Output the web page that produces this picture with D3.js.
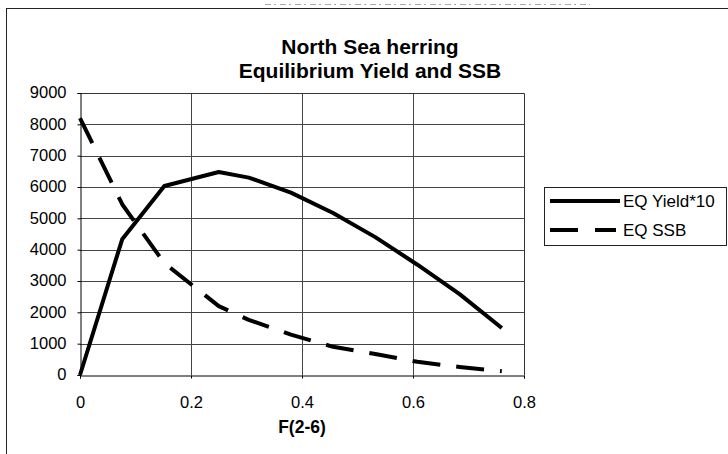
<!DOCTYPE html>
<html>
<head>
<meta charset="utf-8">
<script src="https://cdn.jsdelivr.net/npm/d3@7"></script>
<style>
  html, body { margin: 0; padding: 0; background: #fff; }
  svg { display: block; font-family: "Liberation Sans", Arial, sans-serif; }
</style>
</head>
<body>
<svg id="chart" width="728" height="454"></svg>
<script>
// Fishing mortality F(2-6) at which equilibrium values were computed
const fValues = [0, 0.076, 0.152, 0.25, 0.304, 0.38, 0.456, 0.532, 0.608, 0.684, 0.76];
// Equilibrium yield (scaled by 10) and equilibrium spawning stock biomass
const eqYield10 = [0, 4330, 6030, 6480, 6300, 5820, 5170, 4400, 3520, 2580, 1500];
const eqSSB = [8200, 5450, 3570, 2200, 1760, 1290, 900, 670, 420, 255, 120];
const seriesNames = ["EQ Yield*10", "EQ SSB"];
const yTicks = [0, 1000, 2000, 3000, 4000, 5000, 6000, 7000, 8000, 9000];
const xTicks = [0, 0.2, 0.4, 0.6, 0.8];
const titleLines = ["North Sea herring", "Equilibrium Yield and SSB"];
const xAxisTitle = "F(2-6)";

const svg = d3.select("#chart");
const plot = { left: 80, right: 524, top: 93, bottom: 375 };

const x = d3.scaleLinear().domain([0, 0.8]).range([plot.left, plot.right]);
const y = d3.scaleLinear().domain([0, 9000]).range([plot.bottom, plot.top]);

// outer chart frame (left and top edges)
svg.append("line").attr("x1", 6.5).attr("x2", 6.5).attr("y1", 8).attr("y2", 454)
  .attr("stroke", "#222").attr("stroke-width", 1);
svg.append("line").attr("x1", 6).attr("x2", 728).attr("y1", 8.5).attr("y2", 8.5)
  .attr("stroke", "#222").attr("stroke-width", 1);
svg.append("line").attr("x1", 265).attr("x2", 590).attr("y1", 4.5).attr("y2", 4.5)
  .attr("stroke", "#aaa").attr("stroke-width", 1).attr("stroke-dasharray", "6,3,2,4");

// title
const title = svg.append("g").attr("font-weight", "bold").attr("font-size", 21)
  .attr("text-anchor", "middle").attr("fill", "#000");
title.selectAll("text").data(titleLines).join("text")
  .attr("x", 370).attr("y", (d, i) => 54 + i * 24).text(d => d);

// gridlines
const grid = svg.append("g").attr("stroke", "#444").attr("stroke-width", 1);
grid.selectAll("line.h").data(yTicks.filter(v => v > 0 && v < 9000)).join("line")
  .attr("class", "h")
  .attr("x1", plot.left).attr("x2", plot.right)
  .attr("y1", d => Math.round(y(d)) + 0.5).attr("y2", d => Math.round(y(d)) + 0.5);
grid.selectAll("line.v").data(xTicks.filter(v => v > 0 && v < 0.8)).join("line")
  .attr("class", "v")
  .attr("y1", plot.top).attr("y2", plot.bottom)
  .attr("x1", d => Math.round(x(d)) + 0.5).attr("x2", d => Math.round(x(d)) + 0.5);

// plot frame: top and right edges
svg.append("path")
  .attr("d", `M${plot.left},${plot.top + 0.5}H${plot.right + 0.5}V${plot.bottom}`)
  .attr("fill", "none").attr("stroke", "#333").attr("stroke-width", 1);

// axes
const yAxis = d3.axisLeft(y).tickValues(yTicks).tickSize(3).tickPadding(11)
  .tickFormat(d3.format("d"));
const gy = svg.append("g").attr("transform", `translate(${plot.left + 0.5},0)`).call(yAxis);
gy.select(".domain").attr("stroke", "#000");
gy.selectAll(".tick line").attr("stroke", "#000");
gy.selectAll(".tick text").attr("font-size", 16.5).attr("fill", "#000").attr("dy", "0.3em");

const xAxis = d3.axisBottom(x).tickValues(xTicks).tickSize(3).tickPadding(18)
  .tickFormat(d => d === 0 ? "0" : d3.format(".1f")(d));
const gx = svg.append("g").attr("transform", `translate(0,${plot.bottom + 0.5})`).call(xAxis);
gx.select(".domain").attr("stroke", "#000");
gx.selectAll(".tick line").attr("stroke", "#000");
gx.selectAll(".tick text").attr("font-size", 16.5).attr("fill", "#000");

svg.append("text").attr("x", (plot.left + plot.right) / 2).attr("y", 433)
  .attr("text-anchor", "middle").attr("font-weight", "bold").attr("font-size", 17.5)
  .attr("fill", "#000").text(xAxisTitle);

// series lines
const line = d3.line().x(d => x(d[0])).y(d => y(d[1]));
const series = [
  { name: seriesNames[0], values: eqYield10, dash: null },
  { name: seriesNames[1], values: eqSSB, dash: "28,16" }
];
svg.append("g").selectAll("path").data(series).join("path")
  .attr("d", s => line(fValues.map((f, i) => [f, s.values[i]])))
  .attr("fill", "none").attr("stroke", "#000").attr("stroke-width", 4)
  .attr("stroke-linejoin", "round")
  .attr("stroke-dasharray", s => s.dash);

// legend
const legend = svg.append("g");
legend.append("rect").attr("x", 544.5).attr("y", 187.5).attr("width", 182).attr("height", 58)
  .attr("fill", "#fff").attr("stroke", "#222").attr("stroke-width", 1);
const items = legend.selectAll("g.item").data(series).join("g").attr("class", "item")
  .attr("transform", (d, i) => `translate(0,${201 + i * 29})`);
items.append("line").attr("x1", 550).attr("x2", 620).attr("y1", 0).attr("y2", 0)
  .attr("stroke", "#000").attr("stroke-width", 4)
  .attr("stroke-dasharray", d => d.dash ? "28,17,21" : null);
items.append("text").attr("x", 623).attr("y", 6).attr("font-size", 17)
  .attr("fill", "#000").text(d => d.name);
</script>
</body>
</html>
